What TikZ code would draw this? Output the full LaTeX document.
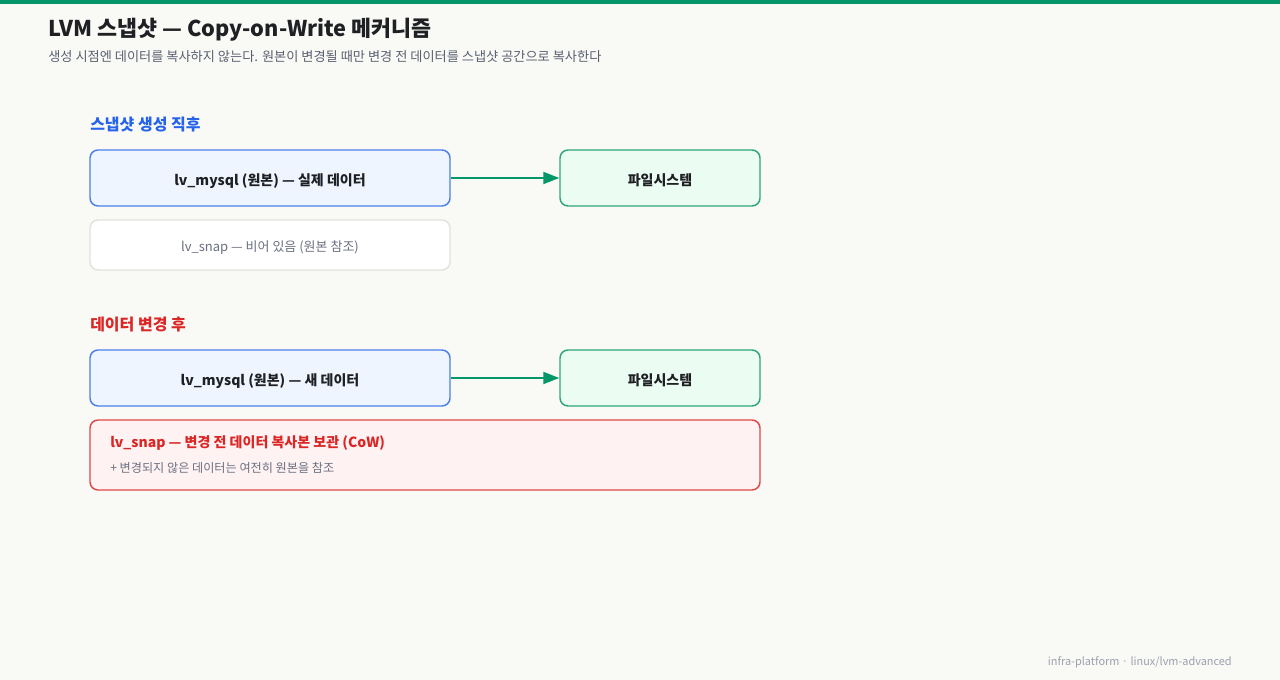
\documentclass[tikz,border=0pt]{standalone}
\usepackage{fontspec}
\setmainfont{Noto Sans CJK KR}
\usetikzlibrary{arrows.meta}
\definecolor{bg}{HTML}{F9F9F6}
\definecolor{topbar}{HTML}{059669}
\definecolor{titlec}{HTML}{1F2024}
\definecolor{subc}{HTML}{5B6070}
\definecolor{bluec}{HTML}{2563EB}
\definecolor{blueb}{HTML}{4A80E8}
\definecolor{bluef}{HTML}{EFF5FF}
\definecolor{greenb}{HTML}{2FA57A}
\definecolor{greenf}{HTML}{EBFCF3}
\definecolor{arrowc}{HTML}{059669}
\definecolor{grayb}{HTML}{E3E3DC}
\definecolor{grayt}{HTML}{6B7080}
\definecolor{redc}{HTML}{DC2626}
\definecolor{redb}{HTML}{E04848}
\definecolor{redf}{HTML}{FEF2F2}
\definecolor{footc}{HTML}{9CA0AE}
\tikzset{
  boxbase/.style={rectangle, rounded corners=6pt, line width=1.1pt, inner sep=0pt, align=center},
  bluebox/.style={boxbase, draw=blueb, fill=bluef, minimum width=270pt, minimum height=42pt, font=\bfseries\fontsize{10.5}{12}\selectfont, text=titlec},
  greenbox/.style={boxbase, draw=greenb, fill=greenf, minimum width=150pt, minimum height=42pt, font=\bfseries\fontsize{10.5}{12}\selectfont, text=titlec},
  graybox/.style={boxbase, draw=grayb, fill=white, minimum width=270pt, minimum height=37.5pt, font=\fontsize{9.75}{11}\selectfont, text=grayt},
  redbox/.style={boxbase, draw=redb, fill=redf, minimum width=502.5pt, minimum height=52.5pt},
  seclabel/.style={anchor=west, inner sep=0pt, font=\bfseries\fontsize{12}{14}\selectfont},
  conn/.style={draw=arrowc, line width=1.4pt, -{Triangle[length=12pt,width=9pt]}},
  lower/.style={text depth=0pt, yshift=-1pt},
}
\begin{document}
\begin{tikzpicture}[x=0.75pt,y=-0.75pt]
\useasboundingbox (0,0) rectangle (1280,680);
\fill[bg] (0,0) rectangle (1280,680);
\fill[topbar] (0,0) rectangle (1280,4);
\node[anchor=base west, inner sep=0pt, text=titlec, font=\bfseries\fontsize{16.3}{20}\selectfont] (title) at (48,37) {LVM 스냅샷 — Copy-on-Write 메커니즘};
\node[anchor=base west, inner sep=0pt, text=subc, font=\fontsize{9.9}{12}\selectfont] (sub) at (48,62) {생성 시점엔 데이터를 복사하지 않는다. 원본이 변경될 때만 변경 전 데이터를 스냅샷 공간으로 복사한다};

\node[seclabel, text=bluec] (sec1) at (90,125) {스냅샷 생성 직후};
\node[bluebox] (orig1) at (270,178) {};
\node[lower, font=\bfseries\fontsize{10.5}{12}\selectfont, text=titlec, inner sep=0pt] (orig1t) at (orig1.center) {lv\_mysql (원본) — 실제 데이터};
\node[greenbox] (fs1) at (660,178) {};
\node[lower, font=\bfseries\fontsize{10.5}{12}\selectfont, text=titlec, inner sep=0pt] (fs1t) at (fs1.center) {파일시스템};
\draw[conn] (orig1) -- (fs1);
\node[graybox] (snap1) at (270,245) {};
\node[lower, font=\fontsize{9.75}{11}\selectfont, text=grayt, inner sep=0pt] (snap1t) at (snap1.center) {lv\_snap — 비어 있음 (원본 참조)};

\node[seclabel, text=redc] (sec2) at (90,325) {데이터 변경 후};
\node[bluebox] (orig2) at (270,378) {};
\node[lower, font=\bfseries\fontsize{10.5}{12}\selectfont, text=titlec, inner sep=0pt] (orig2t) at (orig2.center) {lv\_mysql (원본) — 새 데이터};
\node[greenbox] (fs2) at (660,378) {};
\node[lower, font=\bfseries\fontsize{10.5}{12}\selectfont, text=titlec, inner sep=0pt] (fs2t) at (fs2.center) {파일시스템};
\draw[conn] (orig2) -- (fs2);
\node[redbox] (snap2) at (425,455) {};
\node[anchor=west, inner sep=0pt, text=redc, font=\bfseries\fontsize{10.5}{12}\selectfont] (snap2t) at (110,443) {lv\_snap — 변경 전 데이터 복사본 보관 (CoW)};
\node[anchor=west, inner sep=0pt, text=grayt, font=\fontsize{9.1}{11}\selectfont] (snap2s) at (110,468) {+ 변경되지 않은 데이터는 여전히 원본을 참조};

\node[anchor=east, inner sep=0pt, text=footc, font=\fontsize{8.2}{10}\selectfont] (foot) at (1232,662) {infra-platform · linux/lvm-advanced};
\end{tikzpicture}
\end{document}
